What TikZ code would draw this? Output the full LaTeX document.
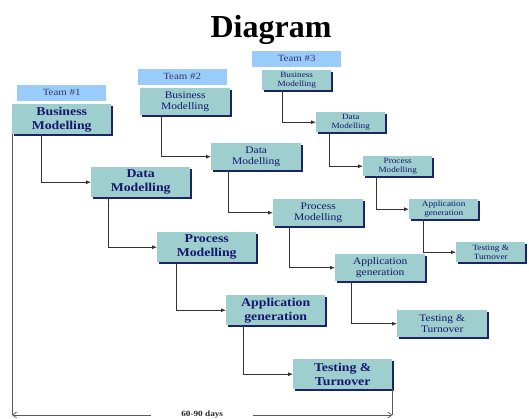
\documentclass[tikz,border=0pt]{standalone}
\usepackage{fontspec}
\setmainfont{Liberation Serif}
\newfontfamily\boxfont[FakeStretch=1.15]{Liberation Serif}
\usetikzlibrary{positioning,shadows,arrows.meta}
\definecolor{boxteal}{RGB}{158,206,206}
\definecolor{teamblue}{RGB}{153,204,250}
\definecolor{navy}{RGB}{28,36,102}
\definecolor{inkblue}{RGB}{20,24,110}

\begin{document}
\begin{tikzpicture}[x=1pt, y=-1pt,
            phase/.style={fill=boxteal, anchor=north west, align=center, inner sep=0pt, text=inkblue,
              drop shadow={shadow xshift=2pt, shadow yshift=-2pt, fill=navy, opacity=1}},
            big/.style={phase, minimum width=99pt, minimum height=30pt, font=\boxfont\bfseries\fontsize{12}{14}\selectfont},
            mid/.style={phase, minimum width=90pt, minimum height=27pt, font=\boxfont\fontsize{10}{11}\selectfont},
            small/.style={phase, minimum width=69pt, minimum height=20pt, font=\boxfont\fontsize{8}{8.5}\selectfont},
            team/.style={fill=teamblue, minimum width=89pt, minimum height=16pt, inner sep=0pt, text=navy!80!gray,
              font=\boxfont\fontsize{9.5}{10}\selectfont},
            flow/.style={draw=black!80, line width=0.8pt, -{Latex[length=5pt,width=4pt]}},
            span/.style={draw=black!65, line width=0.7pt}
        ]
            \useasboundingbox (0,0) rectangle (529,419);

            \node[anchor=base, font=\bfseries\fontsize{32}{36}\selectfont] (title) at (271,38) {Diagram};

            % team 1
            \node[big] (bm1) at (12,104) {Business\\Modelling};
            \node[big] (dm1) at (91,167) {Data\\Modelling};
            \node[big] (pm1) at (157,232) {Process\\Modelling};
            \node[big] (ag1) at (226,295) {Application\\generation};
            \node[big] (tt1) at (293,359) {Testing \&\\Turnover};
            \node[team, above=3pt of bm1] (team1) {Team \#1};

            % team 2
            \node[mid] (bm2) at (140,88) {Business\\Modelling};
            \node[mid] (dm2) at (211,143) {Data\\Modelling};
            \node[mid] (pm2) at (273,199) {Process\\Modelling};
            \node[mid] (ag2) at (335,254) {Application\\generation};
            \node[mid] (tt2) at (397,310) {Testing \&\\Turnover};
            \node[team, above=3pt of bm2, xshift=-3pt] (team2) {Team \#2};

            % team 3
            \node[small] (bm3) at (262,70) {Business\\Modelling};
            \node[small] (dm3) at (316,112) {Data\\Modelling};
            \node[small] (pm3) at (363,156) {Process\\Modelling};
            \node[small] (ag3) at (409,199) {Application\\generation};
            \node[small] (tt3) at (456,242) {Testing \&\\Turnover};
            \node[team, above=3pt of bm3] (team3) {Team \#3};

            \draw[flow] ([xshift=29pt]bm1.south west) |- (dm1.west);
            \draw[flow] ([xshift=17pt]dm1.south west) |- (pm1.west);
            \draw[flow] ([xshift=19pt]pm1.south west) |- (ag1.west);
            \draw[flow] ([xshift=17pt]ag1.south west) |- (tt1.west);

            \draw[flow] ([xshift=21pt]bm2.south west) |- (dm2.west);
            \draw[flow] ([xshift=17pt]dm2.south west) |- (pm2.west);
            \draw[flow] ([xshift=16pt]pm2.south west) |- (ag2.west);
            \draw[flow] ([xshift=16pt]ag2.south west) |- (tt2.west);

            \draw[flow] ([xshift=20pt]bm3.south west) |- (dm3.west);
            \draw[flow] ([xshift=13pt]dm3.south west) |- (pm3.west);
            \draw[flow] ([xshift=13pt]pm3.south west) |- (ag3.west);
            \draw[flow] ([xshift=14pt]ag3.south west) |- (tt3.west);

            % time span
            \coordinate (dl) at (bm1.south west |- 0,415);
            \coordinate (dr) at (tt1.south east |- 0,415);
            \draw[span] (bm1.south west) -- (dl);
            \draw[span] (tt1.south east) -- (dr);
            \draw[span, {Straight Barb[length=4pt,width=6pt]}-{Straight Barb[length=4pt,width=6pt]}] (dl) -- node[fill=white, inner xsep=30pt, inner ysep=1pt, text=black!85, font=\boxfont\bfseries\fontsize{8}{9}\selectfont] (days) {60-90 days} (dr);

        \end{tikzpicture}
\end{document}
